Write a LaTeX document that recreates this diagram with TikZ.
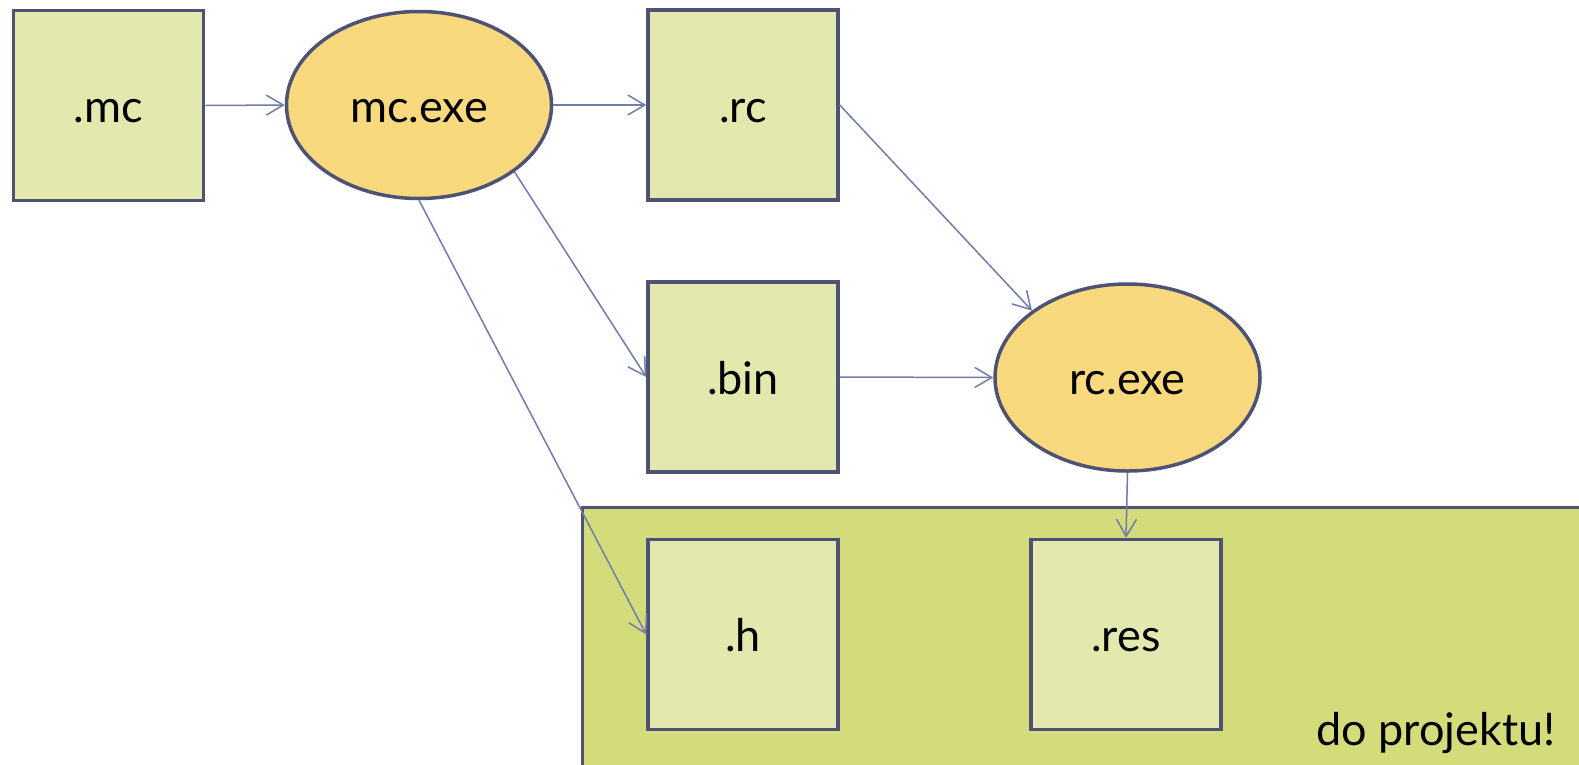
\documentclass[tikz,border=0pt]{standalone}
\usepackage{fontspec}
\setmainfont{Lato}
\usetikzlibrary{shapes.geometric,arrows.meta}
\definecolor{boxfill}{RGB}{226,232,174}
\definecolor{ellfill}{RGB}{249,217,126}
\definecolor{areafill}{RGB}{212,219,122}
\definecolor{bordercol}{RGB}{78,83,118}
\definecolor{edgecol}{RGB}{112,124,170}
\tikzset{
  labelfont/.style={font=\fontsize{45}{54}\selectfont},
  filebox/.style={draw=bordercol, line width=3.5pt, fill=boxfill, minimum width=190pt, minimum height=190pt, inner sep=0pt, labelfont, text height=34pt, text depth=0pt},
  tool/.style={ellipse, draw=bordercol, line width=3.5pt, fill=ellfill, minimum width=265pt, minimum height=187pt, inner sep=0pt, labelfont, text height=34pt, text depth=0pt},
  conn/.style={draw=edgecol, line width=1.5pt, -{Straight Barb[length=17pt,width=20pt,line width=1.5pt]}},
}
\begin{document}
\begin{tikzpicture}[x=1pt,y=-1pt]
\useasboundingbox (0,0) rectangle (1579,764);
\fill[white] (0,0) rectangle (1579,764);
\filldraw[fill=areafill, draw=bordercol, line width=3.5pt] (582.5,507.5) rectangle (1620,820);
\node[anchor=base east, labelfont] (dp) at (1559,745) {do projektu!};
\node[filebox] (mc) at (108.5,105.5) {.mc};
\node[tool] (mcexe) at (419,105) {mc.exe};
\node[filebox] (rc) at (743,105) {.rc};
\node[filebox] (bin) at (743,377) {.bin};
\node[tool] (rcexe) at (1127.5,377.5) {rc.exe};
\node[filebox] (h) at (743,634.5) {.h};
\node[filebox] (res) at (1126,634.5) {.res};
\draw[conn] (mc.east) -- (mcexe.west);
\draw[conn] (mcexe.east) -- (rc.west);
\draw[conn] (rc.east) -- (rcexe.145);
\draw[conn] (mcexe.-35) -- (bin.west);
\draw[conn] (mcexe.south) -- (h.west);
\draw[conn] (bin.east) -- (rcexe.west);
\draw[conn] (rcexe.south) -- (res.north);
\end{tikzpicture}
\end{document}
